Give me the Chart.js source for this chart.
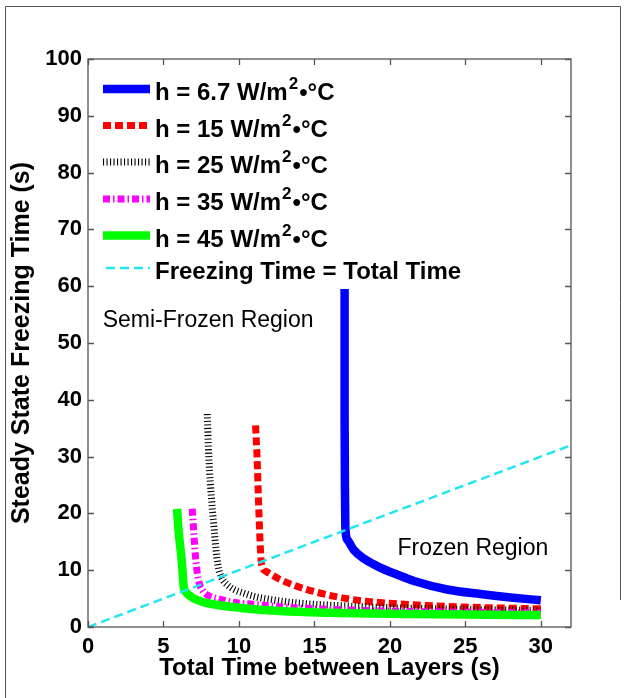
<!DOCTYPE html>
<html>
<head>
<meta charset="utf-8">
<script src="https://cdn.jsdelivr.net/npm/chart.js@4.4.1/dist/chart.umd.min.js"></script>
<style>
  html, body { margin: 0; padding: 0; background: #fff; }
  canvas { display: block; }
</style>
</head>
<body>
<canvas id="myChart" width="629" height="698"></canvas>
<script>
// tick labels
const xTicks = [0, 5, 10, 15, 20, 25, 30];
const yTicks = [0, 10, 20, 30, 40, 50, 60, 70, 80, 90, 100];

// h = 6.7
const h67X = [17.0, 17.0, 17.02, 17.05, 17.2, 17.6, 18.3, 19.4, 20.5, 21.6, 23.8, 26.0, 28.0, 30.0];
const h67Y = [59.5, 37.0, 25.0, 17.5, 15.3, 13.6, 12.0, 10.4, 9.2, 8.1, 6.6, 5.8, 5.2, 4.7];
// h = 15
const h15X = [11.1, 11.2, 11.3, 11.4, 11.5, 11.8, 12.7, 13.8, 14.9, 16.5, 18.2, 21.6, 25.0, 30.0];
const h15Y = [35.5, 30.0, 22.0, 15.0, 11.0, 9.8, 8.4, 7.2, 6.3, 5.3, 4.6, 3.9, 3.5, 3.2];
// h = 25
const h25X = [7.9, 8.0, 8.2, 8.4, 8.6, 8.8, 9.2, 10.5, 12.7, 15.0, 17.2, 20.0, 25.0, 30.0];
const h25Y = [37.5, 30.0, 22.0, 16.0, 11.0, 9.0, 7.5, 5.8, 4.6, 4.0, 3.7, 3.4, 3.1, 2.9];
// h = 35
const h35X = [6.9, 7.0, 7.1, 7.3, 7.6, 8.0, 8.7, 9.7, 10.9, 13.0, 16.0, 20.0, 25.0, 30.0];
const h35Y = [20.8, 17.0, 13.0, 8.5, 6.4, 5.5, 4.9, 4.3, 4.0, 3.5, 3.1, 2.8, 2.6, 2.5];
// h = 45
const h45X = [5.9, 6.0, 6.2, 6.35, 6.5, 6.9, 7.5, 8.3, 10.0, 12.7, 16.0, 21.6, 25.0, 30.0];
const h45Y = [20.8, 17.0, 12.0, 7.0, 6.1, 5.2, 4.5, 4.0, 3.4, 2.8, 2.5, 2.3, 2.2, 2.1];
// freezing time = total time
const equalX = [0, 32];
const equalY = [0, 32];

const hValues = ['6.7', '15', '25', '35', '45'];

function pts(xs, ys) {
    return xs.map((x, i) => ({ x: x, y: ys[i] }));
}

const series = [
    { data: pts(h67X, h67Y), color: '#0000ff', width: 8.5, dash: [], order: 6 },
    { data: pts(h15X, h15Y), color: '#ff0000', width: 7, dash: [8, 4], order: 5 },
    { data: pts(h25X, h25Y), color: '#000000', width: 7, dash: [1.1, 2.4], order: 4 },
    { data: pts(h35X, h35Y), color: '#ff00ff', width: 7, dash: [7, 3, 1.5, 3], order: 3 },
    { data: pts(h45X, h45Y), color: '#00ff00', width: 8.5, dash: [], order: 2 },
    { data: pts(equalX, equalY), color: '#22e6f2', width: 2.5, dash: [9, 5], order: 1 }
];

const FONT = '"Liberation Sans", Arial, Helvetica, sans-serif';

// axes box, inner ticks, legend, region labels
const decor = {
    id: 'decor',
    beforeDraw(chart) {
        const ctx = chart.ctx;
        ctx.save();
        ctx.strokeStyle = '#555';
        ctx.lineWidth = 1;
        ctx.beginPath();
        ctx.moveTo(5.5, 698);
        ctx.lineTo(5.5, 6.5);
        ctx.lineTo(620.5, 6.5);
        ctx.lineTo(620.5, 600);
        ctx.stroke();
        ctx.restore();
    },
    afterDraw(chart) {
        const ctx = chart.ctx;
        const a = chart.chartArea;
        const xs = chart.scales.x, ys = chart.scales.y;
        ctx.save();
        ctx.strokeStyle = '#555';
        ctx.lineWidth = 1.3;
        ctx.strokeRect(a.left, a.top, a.right - a.left, a.bottom - a.top);
        ctx.beginPath();
        xs.ticks.forEach(t => {
            const px = Math.round(xs.getPixelForValue(t.value)) + 0.5;
            ctx.moveTo(px, a.bottom); ctx.lineTo(px, a.bottom - 6);
            ctx.moveTo(px, a.top); ctx.lineTo(px, a.top + 6);
        });
        ys.ticks.forEach(t => {
            const py = Math.round(ys.getPixelForValue(t.value)) + 0.5;
            ctx.moveTo(a.left, py); ctx.lineTo(a.left + 6, py);
            ctx.moveTo(a.right, py); ctx.lineTo(a.right - 6, py);
        });
        ctx.stroke();

        // region labels
        ctx.fillStyle = '#000';
        ctx.font = '23px ' + FONT;
        ctx.textBaseline = 'alphabetic';
        ctx.textAlign = 'left';
        ctx.fillText('Semi-Frozen Region', xs.getPixelForValue(0.97), ys.getPixelForValue(52.8));
        ctx.fillText('Frozen Region', xs.getPixelForValue(20.5), ys.getPixelForValue(12.7));

        // legend
        const base = [41, 77.5, 114, 151, 187.5, 220];
        const x0 = a.left + 15, x1 = a.left + 62, tx = a.left + 67;
        series.forEach((s, i) => {
            const by = a.top + base[i];
            const ly = by - 11;
            ctx.strokeStyle = s.color;
            ctx.lineWidth = s.width;
            ctx.lineCap = 'butt';
            ctx.setLineDash(s.dash);
            ctx.beginPath();
            ctx.moveTo(i === 5 ? x0 + 3 : x0, ly);
            ctx.lineTo(x1, ly);
            ctx.stroke();
            ctx.setLineDash([]);
            ctx.fillStyle = '#000';
            if (i < 5) {
                let cx = tx;
                ctx.font = 'bold 24px ' + FONT;
                const main = 'h = ' + hValues[i] + ' W/m';
                ctx.fillText(main, cx, by);
                cx += ctx.measureText(main).width + 1;
                ctx.font = 'bold 17px ' + FONT;
                ctx.fillText('2', cx, by - 11);
                cx += ctx.measureText('2').width + 1;
                ctx.font = 'bold 24px ' + FONT;
                ctx.fillText('\u2022\u00b0C', cx, by);
            } else {
                ctx.font = 'bold 24px ' + FONT;
                ctx.fillText('Freezing Time = Total Time', tx, by);
            }
        });
        ctx.restore();
    }
};

new Chart(document.getElementById('myChart'), {
    type: 'scatter',
    data: {
        datasets: series.map(s => ({
            data: s.data,
            showLine: true,
            borderColor: s.color,
            backgroundColor: s.color,
            borderWidth: s.width,
            borderDash: s.dash,
            borderCapStyle: 'butt',
            cubicInterpolationMode: 'monotone',
            pointRadius: 0,
            pointHoverRadius: 0,
            order: s.order
        }))
    },
    options: {
        responsive: false,
        animation: false,
        layout: { padding: { top: 59, right: 58, left: 0, bottom: 0 } },
        plugins: { legend: { display: false }, tooltip: { enabled: false } },
        scales: {
            x: {
                type: 'linear',
                min: 0,
                max: 32,
                afterBuildTicks: scale => { scale.ticks = xTicks.map(v => ({ value: v })); },
                afterFit: scale => { scale.height = 71; },
                grid: { display: false, drawTicks: false },
                border: { display: false },
                ticks: { color: '#000', padding: 7, maxRotation: 0, autoSkip: false, font: { family: FONT, size: 22, weight: 'bold' } },
                title: {
                    display: true,
                    text: 'Total Time between Layers (s)',
                    color: '#000',
                    padding: { top: 0, bottom: 15 },
                    font: { family: FONT, size: 24, weight: 'bold' }
                }
            },
            y: {
                type: 'linear',
                min: 0,
                max: 100,
                afterBuildTicks: scale => { scale.ticks = yTicks.map(v => ({ value: v })); },
                afterFit: scale => { scale.width = 88; },
                grid: { display: false, drawTicks: false },
                border: { display: false },
                ticks: { color: '#000', padding: 6, autoSkip: false, font: { family: FONT, size: 22, weight: 'bold' } },
                title: {
                    display: true,
                    text: 'Steady State Freezing Time (s)',
                    color: '#000',
                    padding: { top: 7, bottom: 0 },
                    font: { family: FONT, size: 25, weight: 'bold' }
                }
            }
        }
    },
    plugins: [decor]
});
</script>
</body>
</html>
